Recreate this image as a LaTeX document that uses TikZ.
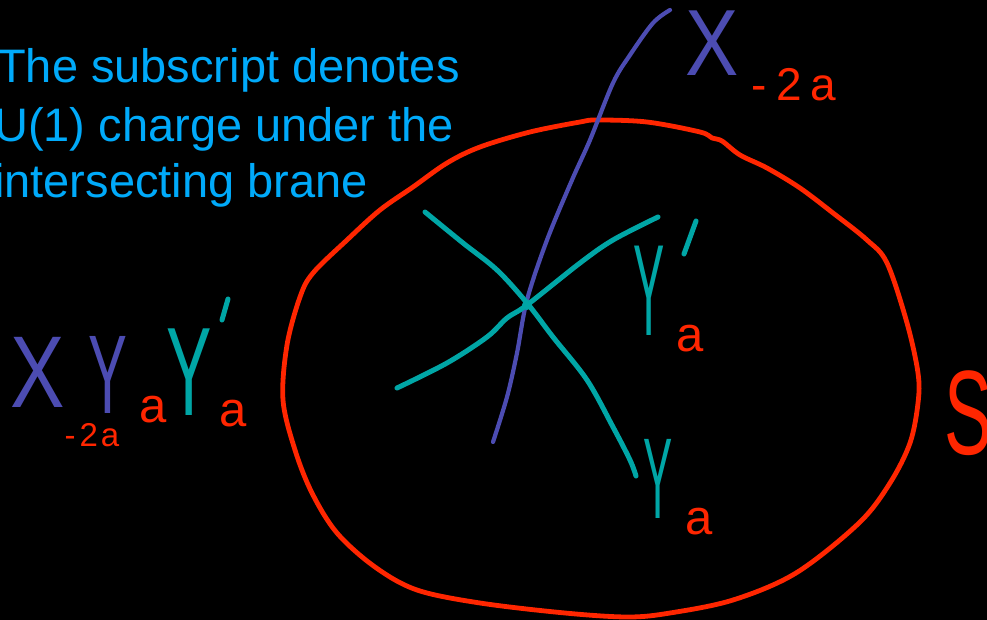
\documentclass[tikz,border=0pt]{standalone}
\usepackage{fontspec}
\usepackage{graphicx}
\setmainfont{Liberation Sans}
\definecolor{bred}{RGB}{255,38,0}
\definecolor{bblue}{RGB}{76,76,178}
\definecolor{bteal}{RGB}{0,166,166}
\definecolor{btext}{RGB}{0,170,250}
\newcommand\hw[3]{\fontsize{#1}{#1}\selectfont\scalebox{#2}[1]{#3}}
\tikzset{
  txt/.style={text=btext, font=\fontsize{47}{57}\selectfont, inner sep=0pt, anchor=base west},
  hand/.style={inner sep=0pt, anchor=center},
  stroke/.style={line cap=round, line join=round},
}
\begin{document}
\begin{tikzpicture}[x=1pt,y=-1pt]
\useasboundingbox (0,0) rectangle (987,620);
\clip (0,0) rectangle (987,620);
\fill[black] (0,0) rectangle (987,620);

% explanatory text
\node[txt] (l1) at (-3,83) {The subscript denotes};
\node[txt] (l2) at (-6,142) {U(1) charge under the};
\node[txt] (l3) at (-6,198) {intersecting brane};

% red surface S
\draw[stroke, bred, line width=4.8pt] plot[smooth cycle, tension=0.55] coordinates {
 (597,120) (647,122) (700,132) (712,138) (722,141) (740,155) (767,168) (800,188)
 (833,213) (867,240) (887,263) (907,323) (918,373) (918,403) (910,443) (890,483)
 (859,523) (796,573) (733,600) (670,613) (628,617) (565,613) (480,603) (417,590)
 (375,567) (337,533) (312,493) (295,450) (283,400) (287,345) (300,297) (313,273)
 (347,240) (380,210) (413,187) (447,163) (480,147) (530,132) (580,122)};

% blue brane X
\draw[stroke, bblue, line width=4.2pt] plot[smooth, tension=0.55] coordinates {
 (670,10) (653,23) (630,55) (613,83) (590,140) (572,180) (547,240) (527,300)
 (517,353) (507,397) (493,442)};

% teal branes Y and Y'
\draw[stroke, bteal, line width=5pt] plot[smooth, tension=0.55] coordinates {
 (425,212) (463,243) (497,270) (527,303) (553,337) (587,380) (613,427) (630,460) (636,476)};
\draw[stroke, bteal, line width=5pt] plot[smooth, tension=0.55] coordinates {
 (397,388) (447,363) (487,337) (507,318) (527,305) (580,263) (613,240) (658,217)};
\fill[bteal] (527,305) circle (5pt);

% label X_{-2a} at top
\node[hand, text=bblue] (Xt) at (712,43) {\hw{94}{0.85}{X}};
\node[hand, text=bred] (Xts) at (794,85) {\hw{46}{1}{-\kern9pt 2\kern9pt a}};

% left labels X_{-2a} Y_a Y'_a
\node[hand, text=bblue] (Xl) at (38,372) {\hw{102}{0.8}{X}};
\node[hand, text=bred] (Xls) at (92,435) {\hw{33}{1}{-\kern4pt 2\kern3pt a}};
\node[hand, text=bblue] (Yl) at (108,375) {\hw{112}{0.52}{Y}};
\node[hand, text=bred] (Yls) at (153,410) {\hw{49}{1}{a}};
\node[hand, text=bteal] (Ypl) at (189,372) {\hw{126}{0.54}{Y}};
\node[hand, text=bred] (Ypls) at (233,414) {\hw{49}{1}{a}};
\draw[stroke, bteal, line width=5pt] (228,299) -- (222,320);

% right labels
\node[hand, text=bteal] (Ypr) at (649,291) {\hw{130}{0.36}{Y}};
\node[hand, text=bred] (Yprs) at (690,339) {\hw{49}{1}{a}};
\draw[stroke, bteal, line width=5pt] (696,221) -- (684,254);
\node[hand, text=bteal] (Yr) at (658,479) {\hw{115}{0.38}{Y}};
\node[hand, text=bred] (Yrs) at (699,522) {\hw{49}{1}{a}};

% S
\node[hand, text=bred] (S) at (968,413) {\hw{120}{0.6}{S}};
\end{tikzpicture}
\end{document}
